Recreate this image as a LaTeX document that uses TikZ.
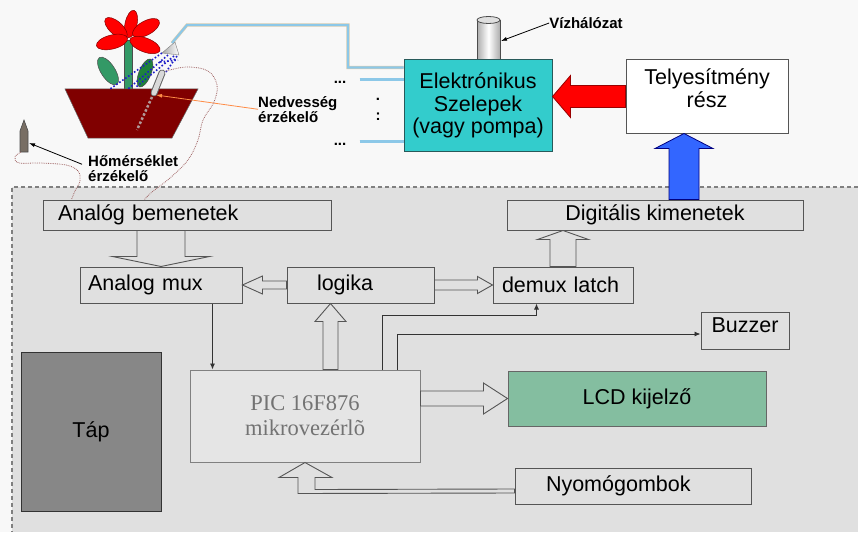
\documentclass[tikz,border=0pt]{standalone}
\usepackage{fontspec}
\setmainfont{Liberation Sans}
\newfontfamily\picfont{Liberation Serif}
\usetikzlibrary{calc,arrows.meta}
\definecolor{paper}{RGB}{248,248,248}
\definecolor{panel}{RGB}{224,224,224}
\definecolor{boxline}{RGB}{85,85,85}
\definecolor{valve}{RGB}{51,204,204}
\definecolor{lcdgreen}{RGB}{132,190,160}
\definecolor{pipeblue}{RGB}{140,200,232}
\definecolor{pipeedge}{RGB}{225,205,170}
\definecolor{leaf}{RGB}{51,153,102}
\definecolor{darkleaf}{RGB}{30,130,60}
\definecolor{pot}{RGB}{128,0,0}
\definecolor{wirecol}{RGB}{160,100,100}
\definecolor{spray}{RGB}{30,30,200}
\definecolor{pointer}{RGB}{255,140,70}
\tikzset{
  blk/.style={draw=boxline, fill=panel, line width=1pt, inner sep=0pt, font=\fontsize{21.5}{22.5}\selectfont},
  hollow/.style={draw=boxline, fill=panel, line width=0.9pt},
  redarrow/.style={draw=red!60!black, fill=red, line width=0.8pt},
  bluearrow/.style={draw=blue!50!black, fill={rgb,255:red,51;green,102;blue,255}, line width=0.8pt},
  conn/.style={draw=black!80, line width=0.9pt, -{Latex[length=6pt,width=5pt]}},
  pointarrow/.style={line width=0.8pt, -{Latex[length=6pt,width=4pt]}},
  tag/.style={font=\bfseries\fontsize{15}{15}\selectfont, align=left, inner sep=0pt},
  pipe/.style={draw=pipeedge, double=pipeblue, double distance=2.2pt, line width=0.5pt},
  wire/.style={draw=wirecol, densely dotted, line width=0.8pt},
  frame/.style={draw=gray, dash pattern=on 4pt off 3pt, line width=1.2pt},
  petal/.style={fill=red, draw=red!50!black, line width=0.5pt},
}
% block arrow: style, from, to, shaft half width, head half width, head length
\newcommand{\blockarrow}[6]{%
  \path ($(#3)!#6!(#2)$) coordinate (ba-h);
  \draw[#1] ($(#2)!#4!90:(#3)$) -- ($(ba-h)!#4!-90:(#2)$) -- ($(ba-h)!#5!-90:(#2)$)
    -- (#3) -- ($(ba-h)!#5!90:(#2)$) -- ($(ba-h)!#4!90:(#2)$) -- ($(#2)!#4!-90:(#3)$) -- cycle;
}

\begin{document}
\begin{tikzpicture}[x=1pt,y=-1pt]
  \useasboundingbox (0,0) rectangle (858,532);
  \fill[paper] (0,0) rectangle (858,532);

  % --- controller panel ---
  \fill[panel] (12,187) rectangle (858,532);
  \draw[frame] (858,187) -- (12,187) -- (12,532);

  % --- water supply and valves ---
  \shade[left color=gray!65, right color=gray!65, middle color=white] (477,20) rectangle (500,60);
  \draw[black!70, line width=0.8pt] (477,20) -- (477,60) (500,20) -- (500,60);
  \filldraw[fill=gray!25, draw=black!70, line width=0.8pt] (488.5,20) ellipse [x radius=11.5pt, y radius=3.5pt];
  \coordinate (inlet) at (501,41);

  \node[blk, fill=valve, draw={rgb,255:red,40;green,90;blue,90}, minimum width=148pt, minimum height=91pt, align=center] (sz) at (478,105.5) {Elektrónikus\\Szelepek\\(vagy pompa)};
  \node[blk, fill=white, minimum width=162pt, minimum height=73pt, align=center] (tel) at (707,96.5) {Telyesítmény\\rész\\[-6pt]\mbox{}};
  \node[tag] (vz) at (586,23) {Vízhálózat};
  \draw[pointarrow] (vz.west) -- (inlet);

  % --- blocks ---
  \node[blk, minimum height=30pt, text width=258pt, inner xsep=15pt, align=left] (ab) at (187,215) {Analóg bemenetek};
  \node[blk, minimum height=30pt, minimum width=296pt] (dig) at (655,215) {Digitális kimenetek};
  \node[blk, minimum height=36pt, text width=146pt, inner xsep=8pt, align=left] (amux) at (161,285) {Analog mux};
  \node[blk, minimum height=36pt, text width=87pt, inner xsep=30pt, align=left] (lg) at (360.5,285) {logika};
  \node[blk, minimum height=36pt, text width=122pt, inner xsep=9pt, align=left] (dm) at (563,285) {demux latch};
  \node[blk, minimum height=37pt, minimum width=88pt, align=center] (bz) at (745,330.5) {Buzzer\\[-12pt]\mbox{}};
  \node[blk, fill=black!10, draw=gray, minimum width=230pt, minimum height=92pt, align=center, text=black!55, font=\picfont\fontsize{22.5}{25}\selectfont] (pic) at (305,416) {PIC 16F876\\mikrovezérlõ};
  \node[blk, fill=lcdgreen, draw=black!60, minimum width=258pt, minimum height=55pt] (lcd) at (637,398.5) {LCD kijelző};
  \node[blk, minimum height=36pt, text width=174pt, inner xsep=31pt, align=left] (ny) at (633,486) {Nyomógombok};
  \node[blk, fill=black!47, draw=black!80, minimum width=140pt, minimum height=159pt] (tap) at (91,431.5) {Táp};

  % --- pipes to the valves ---
  \coordinate (nozzle) at (172,43);
  \draw[pipe] (nozzle) -- (187,25) -- (348,25) |- ($(sz.north west)+(0,8)$);
  \draw[pipe] ($(sz.north west)+(-44,20)$) -- ($(sz.north west)+(0,20)$);
  \draw[pipe] ($(sz.north west)+(-44,82)$) -- ($(sz.north west)+(0,82)$);
  \node[tag, anchor=base] (dots1) at (340,84) {...};
  \node[tag, anchor=base] (dots2) at (340,145) {...};
  \node[tag, anchor=base] (dot) at (378,101) {.};
  \node[tag, anchor=base] (colon) at (378,121) {:};

  % --- flower pot ---
  \filldraw[fill=leaf, draw=black!70, line width=0.5pt, rotate around={123:(108,71)}] (108,71) ellipse [x radius=16pt, y radius=7pt];
  \filldraw[fill=darkleaf, draw=black!70, line width=0.5pt, rotate around={68:(145,73)}] (145,73) ellipse [x radius=15pt, y radius=6pt];
  \filldraw[fill=leaf, draw=black!70, line width=0.5pt] (124,40) rectangle (132,90);
  \draw[petal, rotate around={78:(131,24)}] (131,24) ellipse [x radius=14pt, y radius=6pt];
  \draw[petal, rotate around={138:(116,28)}] (116,28) ellipse [x radius=14pt, y radius=6.5pt];
  \draw[petal, rotate around={29:(146,28)}] (146,28) ellipse [x radius=15pt, y radius=7pt];
  \draw[petal, rotate around={194:(112,42)}] (112,42) ellipse [x radius=16pt, y radius=7pt];
  \draw[petal, rotate around={339:(145,45)}] (145,45) ellipse [x radius=16pt, y radius=7pt];
  \filldraw[fill=pot, draw=black!60, line width=0.5pt] (65,89) -- (198,89) -- (172,138) -- (88,138) -- cycle;
  \draw[gray!60!pink, line width=2.5pt, dotted] (152,97) -- (137,130);
  \draw[black!60, line width=7pt, line cap=round] (162,73) -- (154,93);
  \draw[gray!30, line width=5pt, line cap=round] (162,73) -- (154,93);
  \coordinate (probe) at (156,95);
  \coordinate (probetop) at (166,71);

  % sprinkler and spray
  \shade[left color=gray!70, right color=white, draw=gray] (162,53) -- (175,42) -- (179,55) -- cycle;
  \draw[spray, dotted, line width=1.6pt] (162,53) -- (110,89) (168,55) -- (128,89) (174,56) -- (136,87) (177,56) -- (166,72) (160,62) -- (178,60);

  % --- sensors ---
  \node[tag, anchor=north west] (moist) at (258,96) {Nedvesség\\érzékelő};
  \draw[pointarrow, pointer] (moist.west) -- (probe);
  \filldraw[fill={rgb,255:red,120;green,110;blue,100}, draw=black!70, line width=0.6pt] (20,152) -- (20,131) -- (24,120) -- (28,131) -- (28,152) -- cycle;
  \coordinate (therm) at (21,152);
  \coordinate (thermtip) at (29,143);
  \node[tag, anchor=north west] (temp) at (88,155) {Hőmérséklet\\érzékelő};
  \draw[pointarrow] ($(temp.west)+(-6,-4)$) -- (thermtip);

  % sensor wires into the analog inputs
  \coordinate (abin1) at ($(ab.north west)+(102,0)$);
  \coordinate (abin2) at ($(ab.north west)+(29,0)$);
  \draw[wire] plot[smooth, tension=0.6] coordinates {(probetop) (187,67) (208,71) (217,85) (214,102) (203,120) (198,140) (188,160) (170,178) (152,192) (abin1)};
  \draw[wire] plot[smooth, tension=0.6] coordinates {(therm) (15,157) (19,163) (40,163) (66,165) (78,171) (80,181) (75,191) (abin2)};

  % --- bus arrows ---
  \coordinate (a1) at (amux.north |- ab.south);
  \blockarrow{hollow}{a1}{amux.north}{24pt}{48.5pt}{10pt}
  \blockarrow{hollow}{lg.west}{amux.east}{4pt}{9pt}{20pt}
  \blockarrow{hollow}{lg.east}{dm.west}{5pt}{8.5pt}{15pt}
  \coordinate (a2) at (dm.north |- dig.south);
  \blockarrow{hollow}{dm.north}{a2}{13pt}{25.5pt}{9pt}
  \coordinate (a3) at ($(pic.north)+(25.5,0)$);
  \coordinate (a4) at (a3 |- lg.south);
  \blockarrow{hollow}{a3}{a4}{7.5pt}{15.5pt}{18pt}
  \coordinate (a5) at (pic.east |- lcd.west);
  \blockarrow{hollow}{a5}{lcd.west}{7.5pt}{15.5pt}{24pt}
  \draw[hollow] ($(ny.west)+(0,7)$) -- ($(pic.south)+(-7,31)$) -- ($(pic.south)+(-7,15)$) -- ($(pic.south)+(-26,15)$)
    -- (pic.south) -- ($(pic.south)+(27,15)$) -- ($(pic.south)+(10,15)$) -- ($(pic.south)+(10,27)$) -- ($(ny.west)+(0,3)$) -- cycle;

  % power stage
  \coordinate (a6) at (sz.east |- tel.west);
  \blockarrow{redarrow}{tel.west}{a6}{11pt}{21pt}{18pt}
  \coordinate (a7) at ($(dig.north)+(29,0)$);
  \coordinate (a8) at (a7 |- tel.south);
  \blockarrow{bluearrow}{a7}{a8}{15pt}{29pt}{15pt}

  % --- control lines ---
  \coordinate (p0) at ($(amux.south east)+(-30,0)$);
  \draw[conn] (p0) -- (p0 |- pic.north);
  \coordinate (p1) at ($(pic.north east)+(-38,0)$);
  \coordinate (p2) at ($(pic.north east)+(-23,0)$);
  \coordinate (d1) at ($(dm.south west)+(44,0)$);
  \draw[conn] (p1) |- ($(d1)+(0,12)$) -- (d1);
  \draw[conn] (p2) |- ($(bz.west)+(0,3.5)$);
\end{tikzpicture}
\end{document}
